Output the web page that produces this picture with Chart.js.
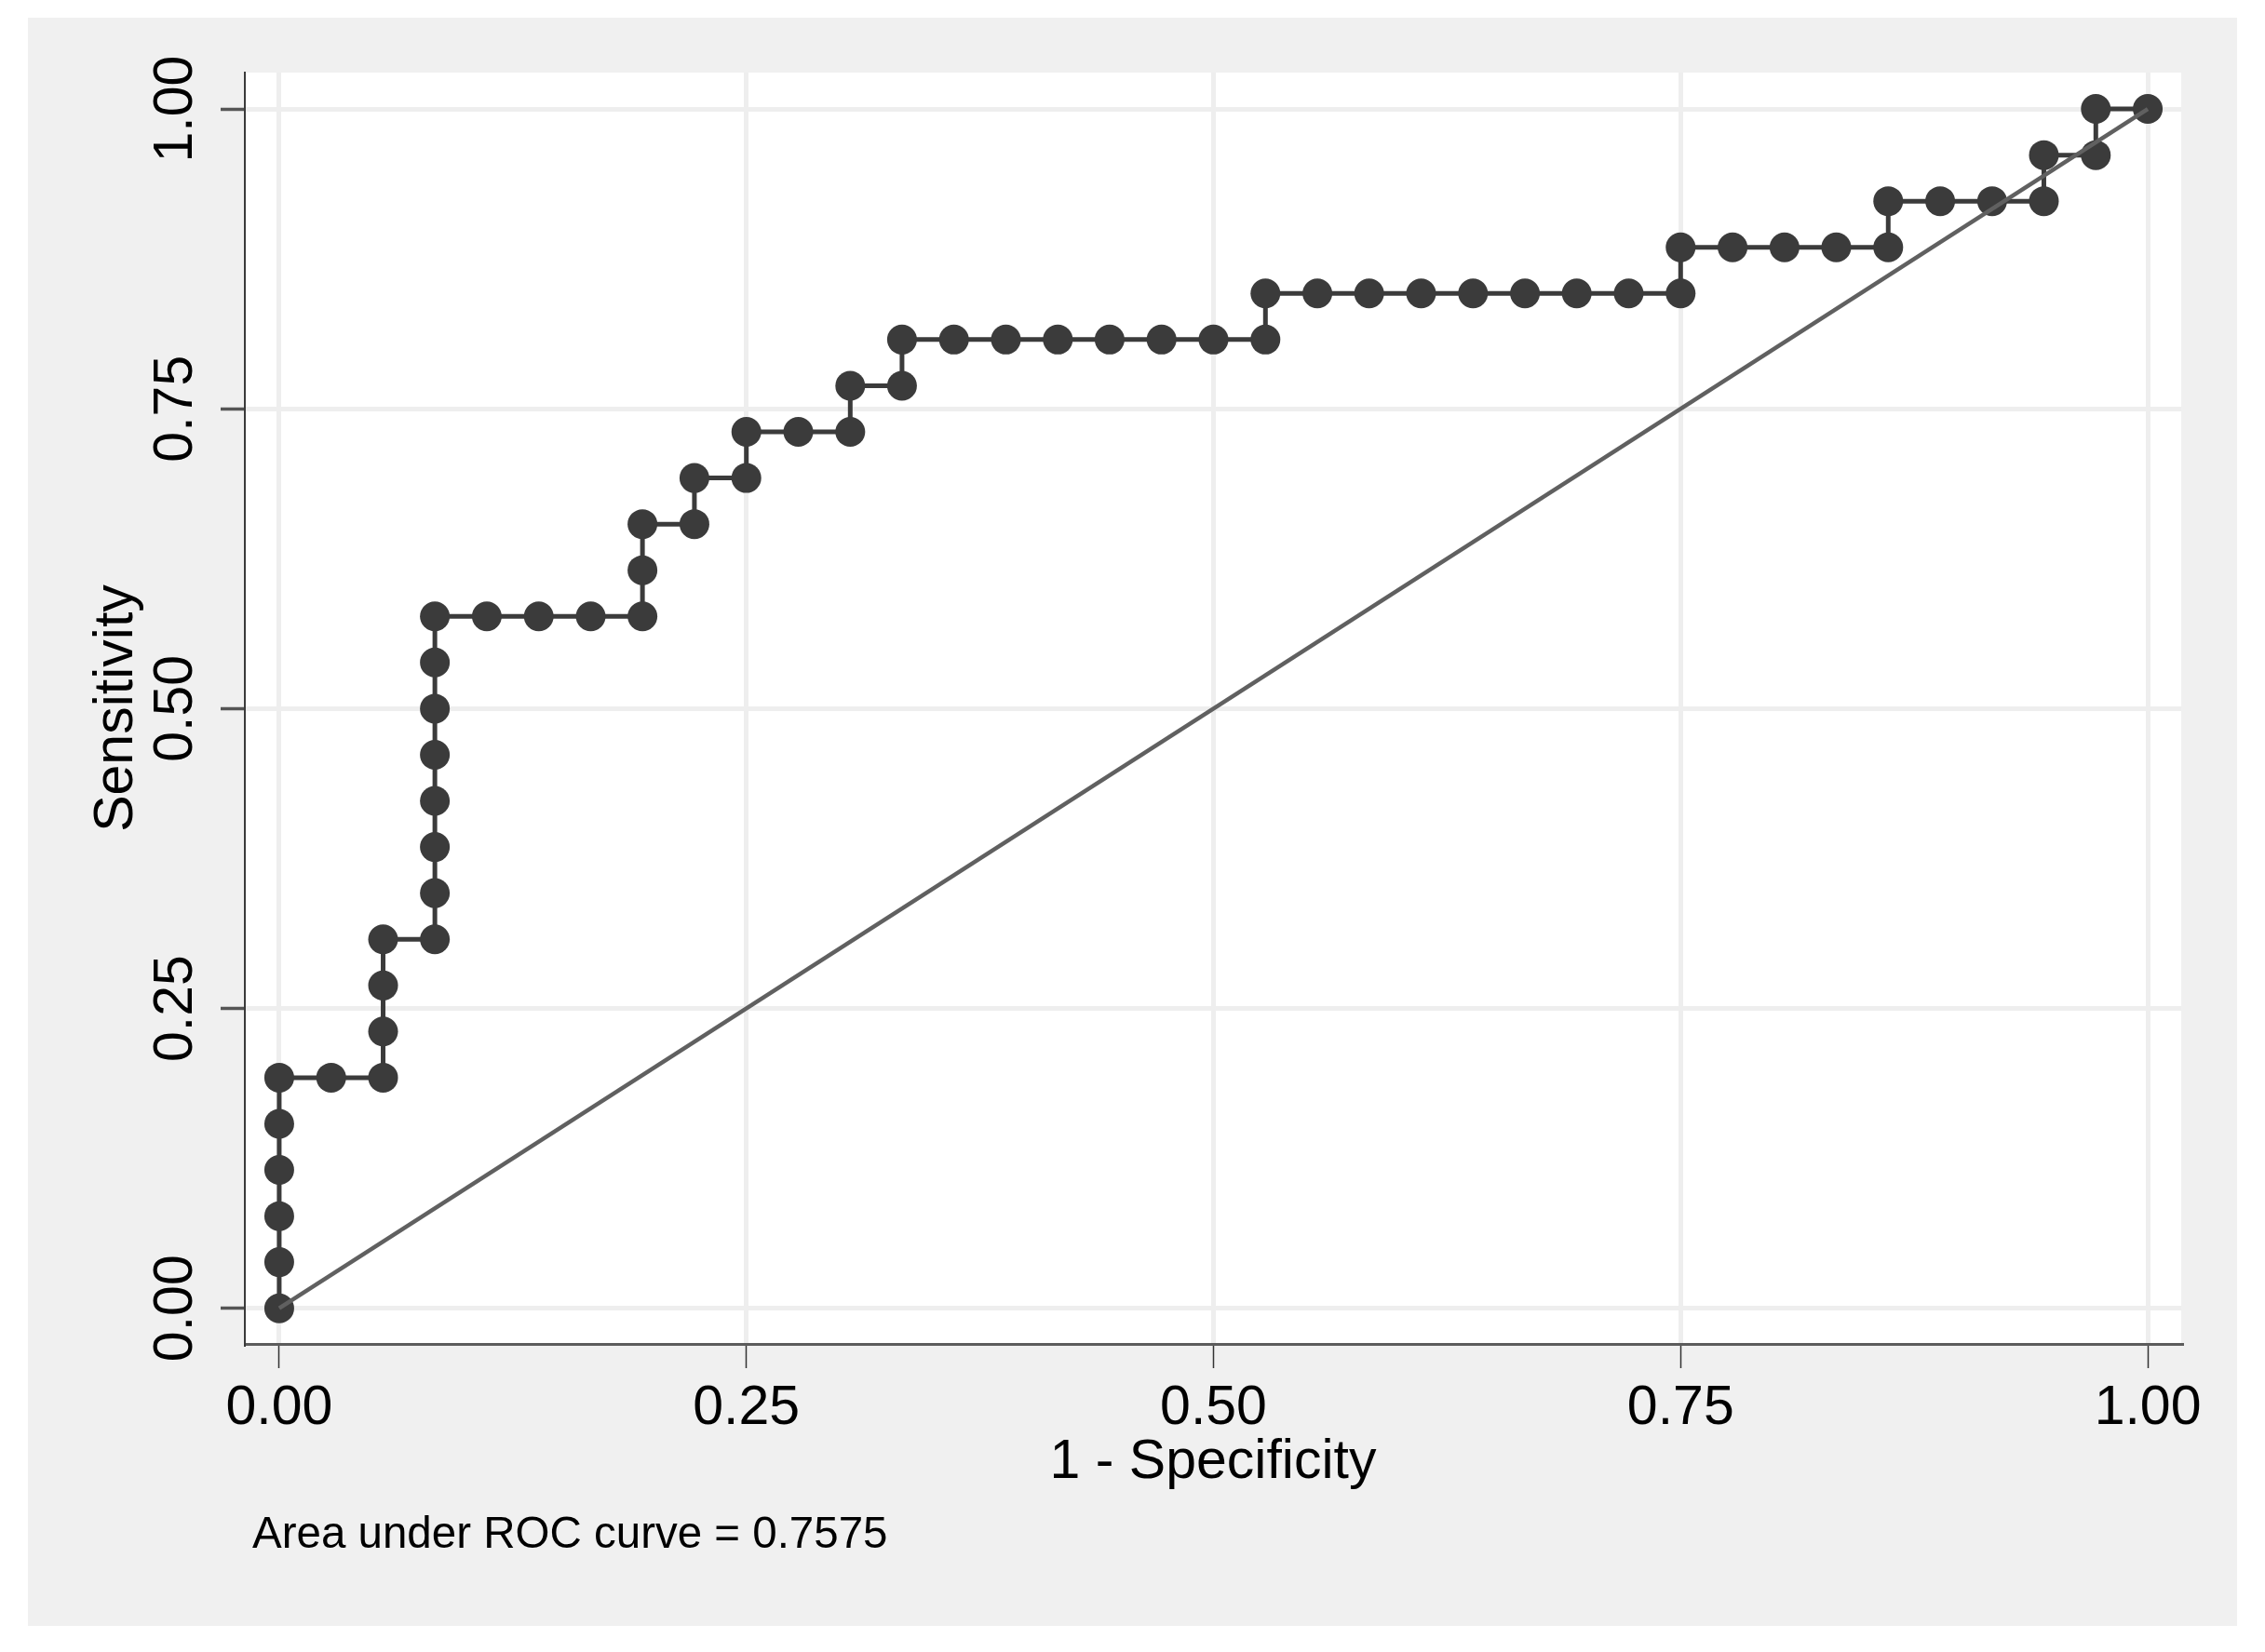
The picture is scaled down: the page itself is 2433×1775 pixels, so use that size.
<!DOCTYPE html>
<html>
<head>
<meta charset="utf-8">
<title>ROC curve</title>
<script src="https://cdn.jsdelivr.net/npm/chart.js@4.4.1/dist/chart.umd.min.js"></script>
<style>
    html, body { margin: 0; padding: 0; background: #ffffff; }
    canvas { display: block; }
</style>
</head>
<body>
<canvas id="rocChart" width="2433" height="1775"></canvas>
<script>
// ROC points (1 - specificity, sensitivity)
const fpr = [
    0, 0, 0, 0, 0, 0,
    0.0278, 0.0556,
    0.0556, 0.0556, 0.0556,
    0.0833,
    0.0833, 0.0833, 0.0833, 0.0833, 0.0833, 0.0833, 0.0833,
    0.1111, 0.1389, 0.1667, 0.1944,
    0.1944, 0.1944,
    0.2222, 0.2222,
    0.25, 0.25,
    0.2778, 0.3056, 0.3056, 0.3333, 0.3333,
    0.3611, 0.3889, 0.4167, 0.4444, 0.4722, 0.5, 0.5278,
    0.5278,
    0.5556, 0.5833, 0.6111, 0.6389, 0.6667, 0.6944, 0.7222, 0.75,
    0.75,
    0.7778, 0.8056, 0.8333, 0.8611,
    0.8611,
    0.8889, 0.9167, 0.9444,
    0.9444, 0.9722, 0.9722, 1
];
const sensitivity = [
    0, 0.0385, 0.0769, 0.1154, 0.1538, 0.1923,
    0.1923, 0.1923,
    0.2308, 0.2692, 0.3077,
    0.3077,
    0.3462, 0.3846, 0.4231, 0.4615, 0.5, 0.5385, 0.5769,
    0.5769, 0.5769, 0.5769, 0.5769,
    0.6154, 0.6538,
    0.6538, 0.6923,
    0.6923, 0.7308,
    0.7308, 0.7308, 0.7692, 0.7692, 0.8077,
    0.8077, 0.8077, 0.8077, 0.8077, 0.8077, 0.8077, 0.8077,
    0.8462,
    0.8462, 0.8462, 0.8462, 0.8462, 0.8462, 0.8462, 0.8462, 0.8462,
    0.8846,
    0.8846, 0.8846, 0.8846, 0.8846,
    0.9231,
    0.9231, 0.9231, 0.9231,
    0.9615, 0.9615, 1, 1
];
// reference diagonal
const refX = [0, 1];
const refY = [0, 1];
const tickValues = [0, 0.25, 0.5, 0.75, 1];
const areaNote = 'Area under ROC curve = 0.7575';

const fontFamily = "'Liberation Sans', Arial, sans-serif";
const markColor = '#3b3b3b';
const panelGrey = '#f0f0f0';
const gridGrey = '#eeeeee';

// fond gris du graphique + zone blanche du tracé + note AUC
const stataBackground = {
    id: 'stataBackground',
    beforeDraw(chart) {
        const { ctx, chartArea: a } = chart;
        ctx.save();
        ctx.fillStyle = panelGrey;
        ctx.fillRect(30, 19, 2373, 1728);
        ctx.fillStyle = '#ffffff';
        ctx.fillRect(a.left, a.top, a.right - a.left, a.bottom - a.top);
        ctx.restore();
    },
    afterDraw(chart) {
        const { ctx, chartArea: a } = chart;
        ctx.save();
        ctx.fillStyle = '#000000';
        ctx.font = '47.5px ' + fontFamily;
        ctx.textAlign = 'left';
        ctx.textBaseline = 'alphabetic';
        ctx.fillText(areaNote, a.left + 8, 1663);
        ctx.restore();
    }
};

function setTicks(scale) {
    scale.ticks = tickValues.map(v => ({ value: v }));
}

function initRocChart() {
    const canvas = document.getElementById('rocChart');
    if (!canvas) return;
    new Chart(canvas, {
        type: 'scatter',
        data: {
            datasets: [
                {
                    label: 'Reference',
                    data: refX.map((x, i) => ({ x: x, y: refY[i] })),
                    showLine: true,
                    borderColor: '#606060',
                    borderWidth: 4.5,
                    pointRadius: 0,
                    order: 0,
                },
                {
                    label: 'ROC',
                    data: fpr.map((x, i) => ({ x: x, y: sensitivity[i] })),
                    showLine: true,
                    borderColor: markColor,
                    borderWidth: 5,
                    pointRadius: 16,
                    pointBackgroundColor: markColor,
                    pointBorderWidth: 0,
                    order: 1,
                },
            ],
        },
        options: {
            responsive: false,
            animation: false,
            devicePixelRatio: 1,
            layout: { padding: { top: 78, right: 90, bottom: 0, left: 0 } },
            plugins: {
                legend: { display: false },
                tooltip: { enabled: false },
            },
            scales: {
                x: {
                    type: 'linear',
                    min: -0.0184,
                    max: 1.0179,
                    afterBuildTicks: setTicks,
                    afterFit: (s) => { s.height = 331; },
                    grid: {
                        color: gridGrey,
                        lineWidth: 5,
                        tickColor: '#333333',
                        tickWidth: 1.5,
                        tickLength: 26,
                    },
                    border: { display: true, color: '#5c5c5c', width: 3 },
                    ticks: {
                        color: '#000000',
                        padding: 8,
                        maxRotation: 0,
                        autoSkip: false,
                        font: { family: fontFamily, size: 59 },
                        callback: (v) => Number(v).toFixed(2),
                    },
                    title: {
                        display: true,
                        text: '1 - Specificity',
                        color: '#000000',
                        font: { family: fontFamily, size: 59 },
                        padding: { top: 0, bottom: 168 },
                    },
                },
                y: {
                    type: 'linear',
                    min: -0.0297,
                    max: 1.0303,
                    afterBuildTicks: setTicks,
                    afterFit: (s) => { s.width = 263; },
                    grid: {
                        color: gridGrey,
                        lineWidth: 5,
                        tickColor: '#555555',
                        tickWidth: 3.5,
                        tickLength: 26,
                    },
                    border: { display: true, color: '#3a3a3a', width: 2 },
                    ticks: {
                        color: '#000000',
                        padding: -10,
                        minRotation: 90,
                        maxRotation: 90,
                        crossAlign: 'center',
                        autoSkip: false,
                        font: { family: fontFamily, size: 59 },
                        callback: (v) => Number(v).toFixed(2),
                    },
                    title: {
                        display: true,
                        text: 'Sensitivity',
                        color: '#000000',
                        font: { family: fontFamily, size: 59 },
                        padding: { top: 90, bottom: 0 },
                    },
                },
            },
        },
        plugins: [stataBackground],
    });
}

document.addEventListener('DOMContentLoaded', () => {
    initRocChart();
});
</script>
</body>
</html>
